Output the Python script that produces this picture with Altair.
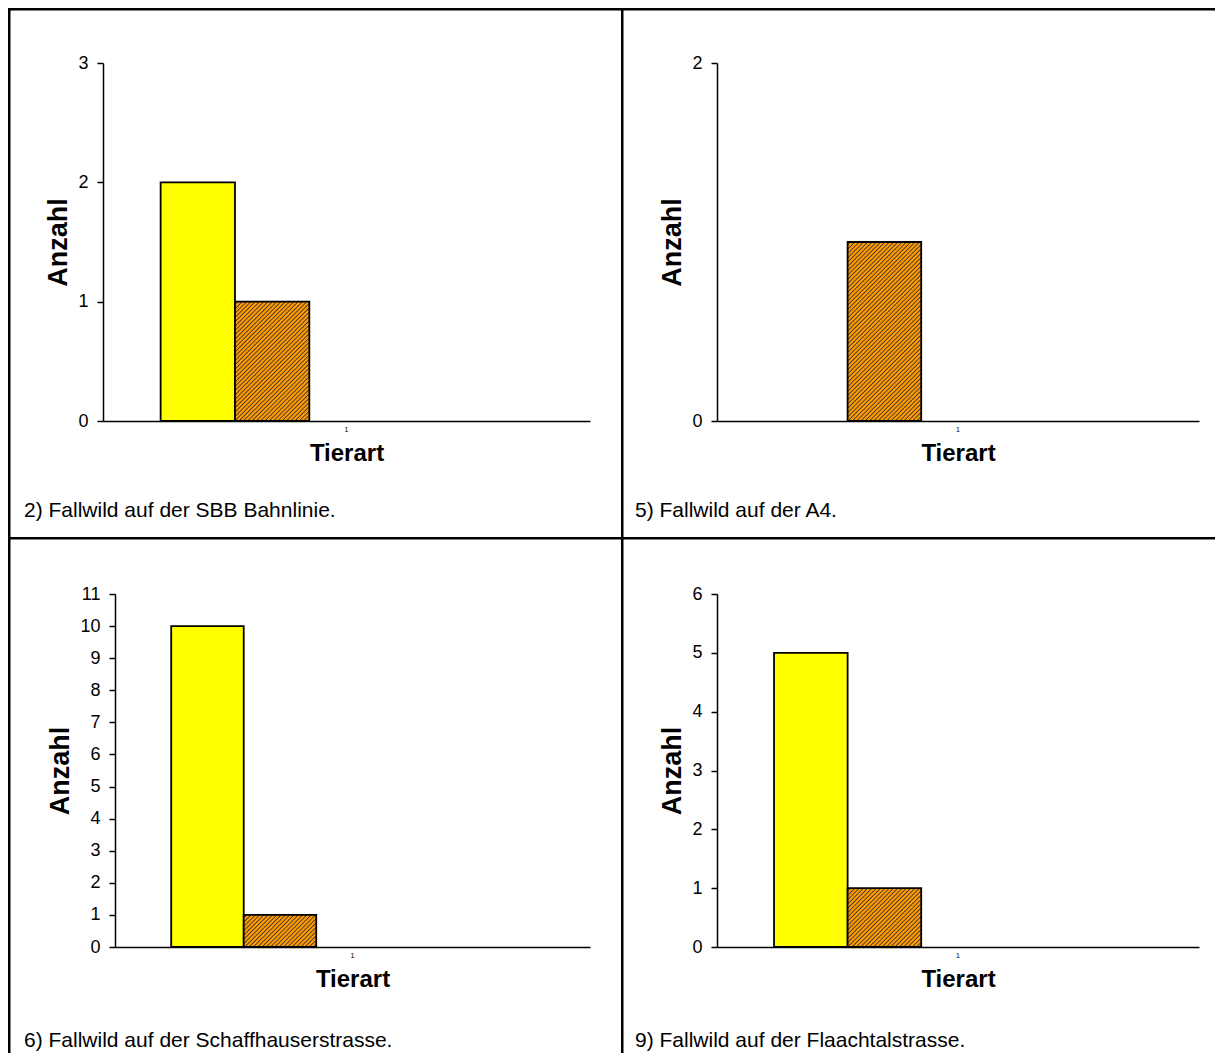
import altair as alt
import pandas as pd

# ---------------- data ----------------
SERIES = ["Serie 1", "Serie 2", "Serie 3", "Serie 4", "Serie 5"]
CATEGORY = "1"
CAPTIONS = [
    "2) Fallwild auf der SBB Bahnlinie.",
    "5) Fallwild auf der A4.",
    "6) Fallwild auf der Schaffhauserstrasse.",
    "9) Fallwild auf der Flaachtalstrasse.",
]
SBB = [2, 1, 0, 0, 0]
A4 = [0, 1, 0, 0, 0]
SCHAFF = [10, 1, 0, 0, 0]
FLAACH = [5, 1, 0, 0, 0]
Y_MAX = [3, 2, 11, 6]

# ---------------- layout / style ----------------
FONT = "Liberation Sans"
YELLOW = "#FFFF00"
ORANGE = "#FF9900"
DARK = "#333333"
PAD_OUTER = 0.155
BORDER = 2.5

LAYOUT = [
    dict(w=613, h=529, xr=(95, 582), yr=(413, 55), cap=(16, 503)),
    dict(w=594, h=529, xr=(96, 578), yr=(413, 55), cap=(14, 503)),
    dict(w=613, h=516, xr=(107, 582), yr=(410, 57), cap=(16, 504)),
    dict(w=594, h=516, xr=(96, 578), yr=(410, 57), cap=(14, 504)),
]


def hatch(w, h, period=4.3):
    """diagonal '/' stripes as a linear gradient over a w x h box"""
    s = (w + h) * w / (w * w + h * h)
    n = (w + h) / period
    stops = []
    k = 0
    while k / n < 1:
        b = k / n
        for frac, col in ((0.0, ORANGE), (0.42, ORANGE), (0.7, DARK), (0.96, ORANGE)):
            off = min(1.0, b + frac / n)
            stops.append({"offset": off, "color": col})
        k += 1
    return {"gradient": "linear", "x1": 0, "y1": 0, "x2": s, "y2": s * h / w,
            "stops": stops}


def panel(values, ymax, caption, L):
    df = pd.DataFrame({"Tierart": CATEGORY, "Serie": SERIES, "Anzahl": values})
    W, H = L["w"], L["h"]
    x0, x1 = L["xr"]
    y0, y1 = L["yr"]

    x = alt.X(
        "Tierart:N", title="Tierart",
        scale=alt.Scale(range=[x0, x1], paddingOuter=PAD_OUTER, paddingInner=0),
        axis=alt.Axis(offset=-(H - y0), labelAngle=0, ticks=False, labelFontSize=7,
                      labelPadding=4, labelColor="black", labelFont=FONT,
                      titleFontSize=24, titleFontWeight="bold", titleFont=FONT,
                      titleColor="black", titlePadding=9, domainColor="black",
                      domainWidth=1.5),
    )
    xo = alt.XOffset("Serie:N", scale=alt.Scale(domain=SERIES, paddingInner=0,
                                                paddingOuter=0))
    y = alt.Y(
        "Anzahl:Q", title="Anzahl",
        scale=alt.Scale(domain=[0, ymax], range=[y0, y1], nice=False, zero=True),
        axis=alt.Axis(offset=-x0, values=list(range(ymax + 1)), format="d", grid=False,
                      tickSize=6, tickWidth=1.5, tickColor="black", domainColor="black",
                      domainWidth=1.5, labelFontSize=18, labelFont=FONT,
                      labelColor="black", labelPadding=9, titleFontSize=27,
                      titleFontWeight="bold", titleFont=FONT, titleColor="black",
                      titlePadding=5),
    )

    base = alt.Chart(df)
    yellow = base.transform_filter(
        "datum.Serie == 'Serie 1' && datum.Anzahl > 0"
    ).mark_bar(fill=YELLOW, stroke="black", strokeWidth=1.8).encode(
        x=x, xOffset=xo, y=y)

    # size of the orange bar (for the hatch orientation)
    bw = (x1 - x0) / (1 + 2 * PAD_OUTER) / len(SERIES)
    bh = max(values[1], 1) * (y0 - y1) / ymax
    orange = base.transform_filter(
        "datum.Serie == 'Serie 2' && datum.Anzahl > 0"
    ).mark_bar(fill=hatch(bw, bh), stroke="black", strokeWidth=1.8).encode(
        x=x, xOffset=xo, y=y)

    cdf = pd.DataFrame({"caption": [caption]})
    top = alt.Chart(cdf).mark_rect(fill="black").encode(
        x=alt.value(0), x2=alt.value(W), y=alt.value(0), y2=alt.value(BORDER))
    left = alt.Chart(cdf).mark_rect(fill="black").encode(
        x=alt.value(0), x2=alt.value(BORDER), y=alt.value(0), y2=alt.value(H))
    cap = alt.Chart(cdf).mark_text(align="left", baseline="middle", fontSize=21,
                                   font=FONT, color="black").encode(
        text="caption:N", x=alt.value(L["cap"][0]), y=alt.value(L["cap"][1]))

    return alt.layer(top, left, yellow, orange, cap).properties(width=W, height=H)


vals = [SBB, A4, SCHAFF, FLAACH]
panels = [panel(vals[i], Y_MAX[i], CAPTIONS[i], LAYOUT[i]) for i in range(4)]

row1 = alt.hconcat(panels[0], panels[1], spacing=0).resolve_scale(
    x="independent", y="independent", xOffset="independent")
row2 = alt.hconcat(panels[2], panels[3], spacing=0).resolve_scale(
    x="independent", y="independent", xOffset="independent")
chart = alt.vconcat(row1, row2, spacing=0).resolve_scale(
    x="independent", y="independent", xOffset="independent"
).properties(padding=0).configure_view(stroke=None)

chart.save("out.html", embed_options={"renderer": "svg", "actions": False})
